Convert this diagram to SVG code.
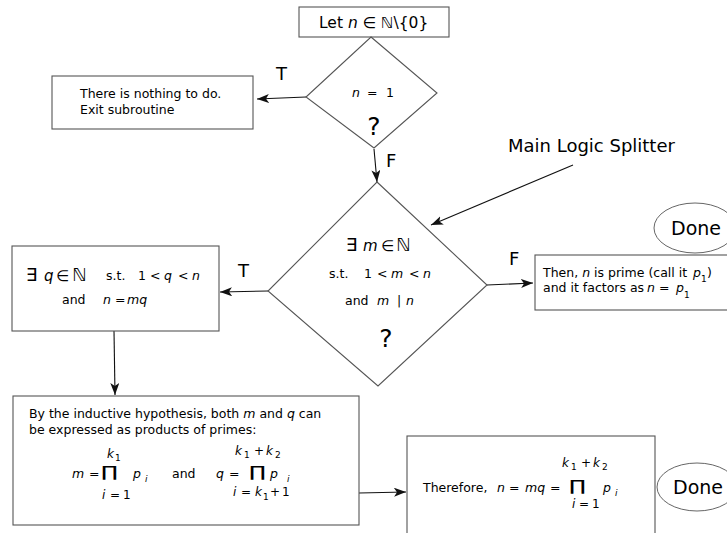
<svg xmlns="http://www.w3.org/2000/svg" width="727" height="533" viewBox="0 0 727 533">
<style>
text{font-family:"DejaVu Sans",Verdana,sans-serif;fill:#000}
.b{fill:#fff;stroke:#555;stroke-width:1.1}
.t{font-size:12.5px}
.i{font-style:italic}
.s{font-size:9px}
.f{font-size:12px}
.q{font-size:25px}
.lab{font-size:18px}
.pr{font-size:15px}
.c{stroke:#111;stroke-width:1.1;fill:none;marker-end:url(#ah)}
</style>
<defs>
<marker id="ah" markerUnits="userSpaceOnUse" markerWidth="14" markerHeight="10" refX="12" refY="4.5" orient="auto">
<path d="M0,0 L12,4.5 L0,9 L3,4.5 z" fill="#111"/>
</marker>
</defs>
<rect width="727" height="533" fill="#fff"/>
<g id="connectors">
<path class="c" d="M306,97 L257,99"/>
<path class="c" d="M374,149 L377,182"/>
<path class="c" d="M573,165 L431,225"/>
<path class="c" d="M487,285 L533,283"/>
<path class="c" d="M268,291 L220,292"/>
<path class="c" d="M114,331 L115,395"/>
<path class="c" d="M359,493 L406,492"/>
<text class="lab" x="276" y="80">T</text>
<text class="lab" x="386" y="167">F</text>
<text class="lab" x="509" y="265">F</text>
<text class="lab" x="238" y="277">T</text>
</g>
<g id="start">
<rect class="b" x="299" y="7" width="150" height="30"/>
<text x="319" y="28" style="font-size:15.5px">Let <tspan class="i">n</tspan> ∈ ℕ\{0}</text>
</g>
<g id="decision1">
<path class="b" d="M371,37 L437,93 L374,148 L306,97 z"/>
<text class="t" y="97"><tspan class="i" x="352">n</tspan><tspan x="367">=</tspan><tspan x="386">1</tspan></text>
<text class="q" x="374" y="135" text-anchor="middle">?</text>
</g>
<g id="nothing">
<rect class="b" x="52" y="76" width="201" height="53"/>
<text class="t" x="80" y="98">There is nothing to do.</text>
<text class="t" x="80" y="114">Exit subroutine</text>
</g>
<g id="decision2">
<path class="b" d="M377,182 L487,285 L378,386 L268,291 z"/>
<text y="251"><tspan x="346" style="font-size:18px">∃</tspan><tspan x="363" class="i" style="font-size:15px">m</tspan><tspan x="381" style="font-size:15px">∈</tspan><tspan x="396" style="font-size:18px">ℕ</tspan></text>
<text class="t" y="278"><tspan x="329">s.t.</tspan><tspan x="364">1</tspan><tspan x="377">&lt;</tspan><tspan x="391" class="i">m</tspan><tspan x="409">&lt;</tspan><tspan x="423" class="i">n</tspan></text>
<text class="t" y="305"><tspan x="345">and</tspan><tspan x="377" class="i">m</tspan><tspan x="397">|</tspan><tspan x="406" class="i">n</tspan></text>
<text class="q" x="386" y="347" text-anchor="middle">?</text>
</g>
<g id="label">
<text x="508" y="152" style="font-size:18px">Main Logic Splitter</text>
</g>
<g id="done1">
<ellipse cx="695" cy="228" rx="41" ry="25" fill="#fff" stroke="#666" stroke-width="1"/>
<text x="696" y="235" text-anchor="middle" style="font-size:19px">Done</text>
</g>
<g id="prime">
<rect class="b" x="535" y="255" width="200" height="55"/>
<text class="t" y="277"><tspan x="543">Then, </tspan><tspan class="i">n</tspan><tspan> is prime (call it</tspan><tspan class="i" x="693">p</tspan><tspan class="s" x="701" y="282">1</tspan><tspan x="707" y="277">)</tspan></text>
<text class="t" y="292"><tspan x="543">and it factors as</tspan><tspan class="i" x="647">n</tspan><tspan x="659">=</tspan><tspan class="i" x="676">p</tspan><tspan class="s" x="684" y="298">1</tspan></text>
</g>
<g id="qbox">
<rect class="b" x="12" y="246" width="207" height="85"/>
<text y="281"><tspan x="26" style="font-size:18px">∃</tspan><tspan x="44" class="i" style="font-size:15px">q</tspan><tspan x="56" style="font-size:15px">∈</tspan><tspan x="72" style="font-size:18px">ℕ</tspan></text>
<text class="t" y="280"><tspan x="106">s.t.</tspan><tspan x="138">1</tspan><tspan x="150">&lt;</tspan><tspan x="164" class="i">q</tspan><tspan x="178">&lt;</tspan><tspan x="192" class="i">n</tspan></text>
<text class="t" y="304"><tspan x="62">and</tspan><tspan x="103" class="i">n</tspan><tspan x="115">=</tspan><tspan x="127" class="i">mq</tspan></text>
</g>
<g id="induction">
<rect class="b" x="13" y="396" width="346" height="129"/>
<text class="t" x="29" y="418">By the inductive hypothesis, both <tspan class="i">m</tspan> and <tspan class="i">q</tspan> can</text>
<text class="t" x="29" y="434">be expressed as products of primes:</text>
<text class="t" y="478"><tspan class="i" x="72">m</tspan><tspan x="89">=</tspan></text>
<text class="pr" transform="translate(101,477) scale(1.5,1)">∏</text>
<text class="f i" x="107" y="458">k</text><text class="s" x="115" y="461">1</text>
<text class="t i" x="133" y="478">p</text><text class="s i" x="145" y="482">i</text>
<text class="f" y="499"><tspan class="i" x="102">i</tspan><tspan x="110">=</tspan><tspan x="123">1</tspan></text>
<text class="t" x="172" y="478">and</text>
<text class="t" y="478"><tspan class="i" x="216">q</tspan><tspan x="229">=</tspan></text>
<text class="pr" transform="translate(249,477) scale(1.5,1)">∏</text>
<text class="f" y="455"><tspan class="i" x="235">k</tspan><tspan class="s" x="244" y="458">1</tspan><tspan x="254" y="455">+</tspan><tspan class="i" x="266">k</tspan><tspan class="s" x="275" y="458">2</tspan></text>
<text class="t i" x="270" y="478">p</text><text class="s i" x="287" y="482">i</text>
<text class="f" y="496"><tspan class="i" x="233">i</tspan><tspan x="241">=</tspan><tspan class="i" x="255">k</tspan><tspan class="s" x="263" y="500">1</tspan><tspan x="270" y="496">+</tspan><tspan x="282">1</tspan></text>
</g>
<g id="therefore">
<rect class="b" x="407" y="436" width="248" height="105"/>
<text class="t" y="492"><tspan x="423">Therefore,</tspan><tspan class="i" x="497">n</tspan><tspan x="509">=</tspan><tspan class="i" x="525">mq</tspan><tspan x="550">=</tspan></text>
<text class="pr" transform="translate(569,491) scale(1.5,1)">∏</text>
<text class="f" y="467"><tspan class="i" x="562">k</tspan><tspan class="s" x="571" y="470">1</tspan><tspan x="581" y="467">+</tspan><tspan class="i" x="593">k</tspan><tspan class="s" x="602" y="470">2</tspan></text>
<text class="t i" x="603" y="492">p</text><text class="s i" x="615" y="496">i</text>
<text class="f" y="508"><tspan class="i" x="572">i</tspan><tspan x="579">=</tspan><tspan x="592">1</tspan></text>
</g>
<g id="done2">
<ellipse cx="697" cy="487" rx="40" ry="24" fill="#fff" stroke="#666" stroke-width="1"/>
<text x="698" y="494" text-anchor="middle" style="font-size:19px">Done</text>
</g>
</svg>
